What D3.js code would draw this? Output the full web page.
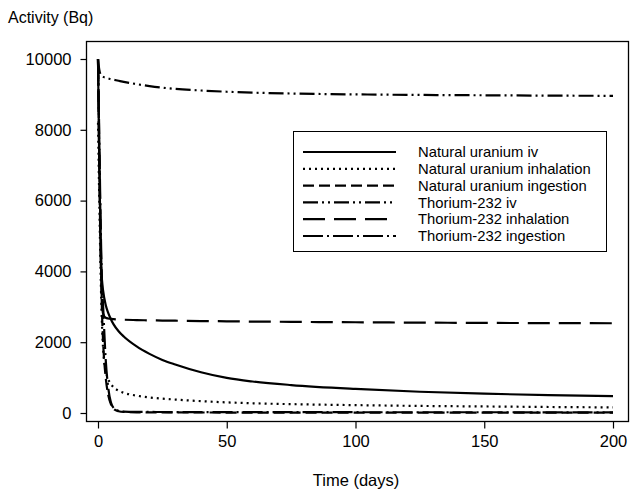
<!DOCTYPE html>
<html>
<head>
<meta charset="utf-8">
<script src="https://cdn.jsdelivr.net/npm/d3@7"></script>
<style>
  body { margin: 0; background: #fff; }
  svg { display: block; font-family: "Liberation Sans", Arial, sans-serif; }
</style>
</head>
<body>
<div id="chart"></div>
<script>
// time points (days)
var days = [0, 0.5, 1, 1.5, 2, 3, 4, 5, 6, 8, 10, 15, 20, 25, 30, 40, 50, 60, 75, 100, 125, 150, 175, 200];

// activity (Bq)
var uIv =         [10000, 7000, 5000, 3800, 3450, 3050, 2820, 2650, 2510, 2310, 2160, 1880, 1670, 1500, 1370, 1150, 990, 890, 790, 680, 600, 545, 505, 475];
var uInhalation = [8200, 6000, 4000, 2600, 1800, 1200, 950, 820, 730, 630, 570, 490, 440, 405, 380, 335, 300, 275, 250, 222, 200, 185, 170, 158];
var uIngestion =  [10000, 7500, 5000, 3000, 2000, 1000, 500, 250, 120, 50, 30, 20, 18, 16, 15, 14, 13, 12, 12, 11, 11, 10, 10, 10];
var thIv =        [10000, 9700, 9560, 9515, 9495, 9470, 9450, 9430, 9415, 9385, 9355, 9290, 9235, 9190, 9155, 9110, 9075, 9050, 9025, 9000, 8985, 8975, 8965, 8960];
var thInhalation =[10000, 7000, 4500, 3200, 2800, 2690, 2670, 2660, 2650, 2640, 2635, 2625, 2618, 2612, 2607, 2598, 2590, 2583, 2575, 2563, 2553, 2545, 2540, 2535];
var thIngestion = [10000, 7800, 5500, 3800, 3000, 1500, 700, 300, 150, 60, 40, 32, 30, 28, 27, 26, 25, 24, 23, 22, 21, 21, 20, 20];

var seriesNames = ["Natural uranium iv", "Natural uranium inhalation", "Natural uranium ingestion",
                   "Thorium-232 iv", "Thorium-232 inhalation", "Thorium-232 ingestion"];
var seriesValues = [uIv, uInhalation, uIngestion, thIv, thInhalation, thIngestion];
var dashes = [null, "2,4", "11,5", "15,4,2,4,2,4", "22,9", "20,4,2,4"];

var xTicks = [0, 50, 100, 150, 200];
var yTicks = [0, 2000, 4000, 6000, 8000, 10000];

var width = 630, height = 490;
var box = {left: 86, top: 41, right: 628, bottom: 421};

var svg = d3.select("#chart").append("svg")
    .attr("width", width)
    .attr("height", height);

var x = d3.scaleLinear().domain([0, 200]).range([98, 613]);
var y = d3.scaleLinear().domain([0, 10000]).range([413, 59]);

// frame
svg.append("rect")
    .attr("x", box.left + 0.5)
    .attr("y", box.top + 0.5)
    .attr("width", box.right - box.left)
    .attr("height", box.bottom - box.top)
    .style("fill", "none")
    .style("stroke", "#000")
    .style("stroke-width", 1.3);

var yAxis = svg.append("g")
    .attr("transform", "translate(" + (box.left + 0.5) + ",0)")
    .call(d3.axisLeft(y).tickValues(yTicks).tickSize(6).tickPadding(9).tickFormat(d3.format("d")));

var xAxis = svg.append("g")
    .attr("transform", "translate(0," + (box.bottom + 0.5) + ")")
    .call(d3.axisBottom(x).tickValues(xTicks).tickSize(7).tickPadding(7).tickFormat(d3.format("d")));

svg.selectAll(".domain").remove();
svg.selectAll(".tick line").style("stroke", "#000").style("stroke-width", 1.2);
svg.selectAll(".tick text")
    .style("font-family", "'Liberation Sans', Arial, sans-serif")
    .style("font-size", "16.5px")
    .style("fill", "#000");

svg.append("text")
    .attr("x", 8)
    .attr("y", 23)
    .style("font-size", "16px")
    .text("Activity (Bq)");

svg.append("text")
    .attr("x", 356)
    .attr("y", 486)
    .attr("text-anchor", "middle")
    .style("font-size", "16.5px")
    .text("Time (days)");

var line = d3.line()
    .x(function(d) { return x(d[0]); })
    .y(function(d) { return y(d[1]); })
    .curve(d3.curveMonotoneX);

seriesValues.forEach(function(vals, i) {
    var pts = days.map(function(t, j) { return [t, vals[j]]; });
    svg.append("path")
        .datum(pts)
        .attr("d", line)
        .style("fill", "none")
        .style("stroke", "#000")
        .style("stroke-width", 2.2)
        .style("stroke-dasharray", dashes[i]);
});

// legend
var legend = svg.append("g");
legend.append("rect")
    .attr("x", 293.5).attr("y", 131.5)
    .attr("width", 313).attr("height", 120)
    .style("fill", "#fff")
    .style("stroke", "#000")
    .style("stroke-width", 1);

var rowY = d3.scaleLinear().domain([0, 5]).range([152, 236]);
seriesNames.forEach(function(name, i) {
    legend.append("line")
        .attr("x1", 303).attr("x2", 396)
        .attr("y1", rowY(i)).attr("y2", rowY(i))
        .style("stroke", "#000")
        .style("stroke-width", 2.2)
        .style("stroke-dasharray", dashes[i]);
    legend.append("text")
        .attr("x", 418)
        .attr("y", rowY(i))
        .attr("dy", "0.35em")
        .style("font-size", "14.8px")
        .text(name);
});
</script>
</body>
</html>
